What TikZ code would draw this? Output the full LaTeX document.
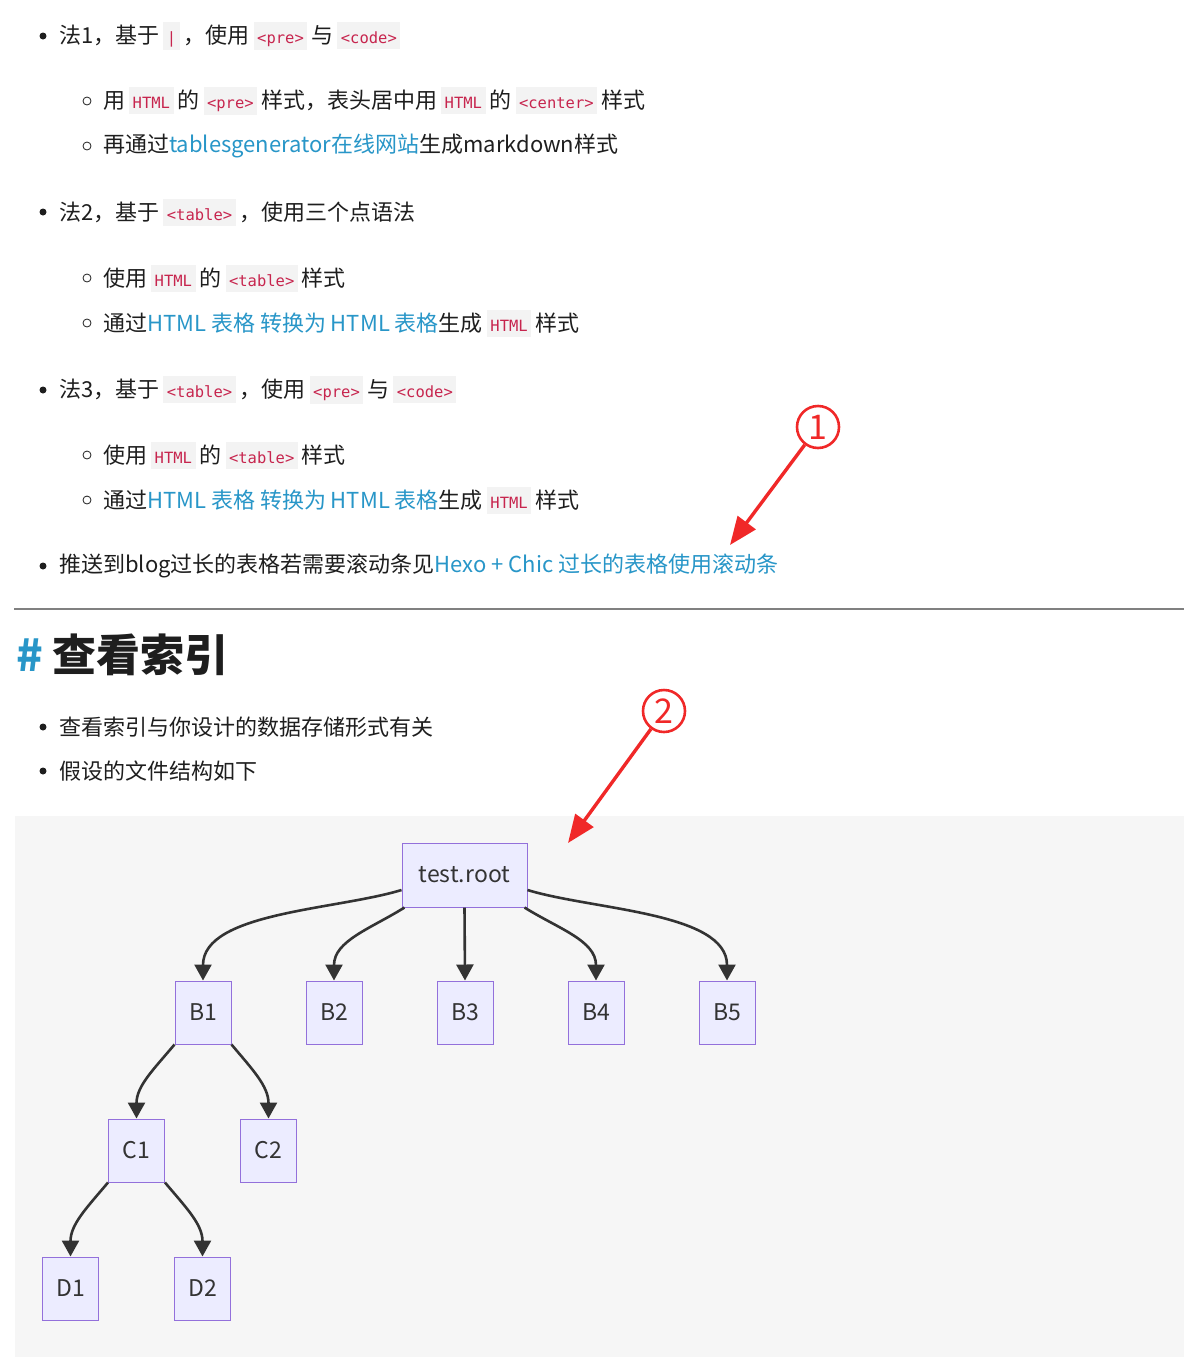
\documentclass[tikz,border=0pt]{standalone}
\usepackage{fontspec}
\setmainfont{Noto Sans CJK SC}
\newfontfamily\codefont{DejaVu Sans Mono}
\usepackage{xcolor}
\definecolor{textgray}{RGB}{30,30,30}
\definecolor{linkblue}{RGB}{40,150,200}
\definecolor{codered}{RGB}{199,37,78}
\definecolor{codebg}{RGB}{243,243,243}
\definecolor{chartbg}{RGB}{246,246,246}
\definecolor{boxfill}{RGB}{236,236,255}
\definecolor{boxline}{RGB}{147,112,219}
\definecolor{edgegray}{RGB}{51,51,51}
\definecolor{markred}{RGB}{240,40,40}
\usetikzlibrary{arrows.meta}
\tikzset{>={Triangle[width=17pt,length=16pt]}}
\newcommand\cd[1]{\hspace{4pt}{\setlength\fboxsep{3.5pt}\colorbox{codebg}{\codefont\fontsize{15.5}{18}\selectfont\textcolor{codered}{\rule[-2pt]{0pt}{20pt}#1}}}\hspace{4pt}}
\newcommand\lnk[1]{\textcolor{linkblue}{#1}}
\tikzset{%
    itemtext/.style={anchor=west, inner sep=0pt, text=textgray,
        font=\fontsize{22}{26}\selectfont},
    filebox/.style={draw=boxline, fill=boxfill, line width=1pt, text=edgegray,
        minimum width=56pt, minimum height=63pt, inner sep=0pt,
        font=\fontsize{23}{26}\selectfont},
    treeedge/.style={->, draw=edgegray, line width=2.6pt},
    callout/.style={circle, draw=markred, line width=2.6pt, text=markred,
        minimum size=42pt, inner sep=0pt, font=\fontsize{34}{34}\selectfont},
    calloutarrow/.style={markred, line width=3.4pt,
        -{Triangle[width=22pt,length=28pt]}}
}

\begin{document}
\begin{tikzpicture}[x=1pt,y=-1pt]
    \useasboundingbox[fill=white] (0,0) rectangle (1199,1360);
    % bullets
    \foreach \y in {36,212,390,566,727,771}
        \fill[textgray] (43,\y) circle (3.5);
    \foreach \y in {101,146,278,323,455,500}
        \draw[textgray,line width=0.8pt] (87,\y) circle (4);
    \node[itemtext] (m1) at (59,36) {法1，基于\cd{|}，使用\cd{<pre>}与\cd{<code>}};
    \node[itemtext] (m1a) at (103,101) {用\cd{HTML}的\cd{<pre>}样式，表头居中用\cd{HTML}的\cd{<center>}样式};
    \node[itemtext] (m1b) at (103,146) {再通过\lnk{tablesgenerator在线网站}生成markdown样式};
    \node[itemtext] (m2) at (59,212) {法2，基于\cd{<table>}，使用三个点语法};
    \node[itemtext] (m2a) at (103,278) {使用\cd{HTML}的\cd{<table>}样式};
    \node[itemtext] (m2b) at (103,323) {通过\lnk{HTML 表格 转换为 HTML 表格}生成\cd{HTML}样式};
    \node[itemtext] (m3) at (59,390) {法3，基于\cd{<table>}，使用\cd{<pre>}与\cd{<code>}};
    \node[itemtext] (m3a) at (103,455) {使用\cd{HTML}的\cd{<table>}样式};
    \node[itemtext] (m3b) at (103,500) {通过\lnk{HTML 表格 转换为 HTML 表格}生成\cd{HTML}样式};
    \node[itemtext] (m4) at (59,566) {推送到blog过长的表格若需要滚动条见\lnk{Hexo + Chic 过长的表格使用滚动条}};
    \draw[gray,line width=1.5pt] (14,609) -- (1184,609);
    \node[itemtext, font=\fontsize{44}{50}\selectfont\bfseries] (head) at (16,655)
        {\textcolor{linkblue}{\#}\hspace{10pt}查看索引};
    \node[itemtext] (s1) at (59,727) {查看索引与你设计的数据存储形式有关};
    \node[itemtext] (s2) at (59,771) {假设的文件结构如下};
    % tree
    \fill[chartbg] (15,816) rectangle (1184,1357);
    \node[filebox, minimum width=125pt, minimum height=64pt] (root) at (464.5,875) {test.root};
    \node[filebox] (b1) at (203,1012.5) {B1};
    \node[filebox] (b2) at (334,1012.5) {B2};
    \node[filebox] (b3) at (465,1012.5) {B3};
    \node[filebox] (b4) at (596,1012.5) {B4};
    \node[filebox] (b5) at (727,1012.5) {B5};
    \node[filebox] (c1) at (136.5,1150.5) {C1};
    \node[filebox] (c2) at (268.5,1150.5) {C2};
    \node[filebox] (d1) at (70.5,1288.5) {D1};
    \node[filebox] (d2) at (202.5,1288.5) {D2};
    \draw[treeedge] ([yshift=-15pt]root.west) to[out=197,in=90,looseness=0.8] (b1.north);
    \draw[treeedge] ([xshift=3pt]root.south west) to[out=212,in=90] (b2.north);
    \draw[treeedge] (root.south) -- (b3.north);
    \draw[treeedge] ([xshift=-3pt]root.south east) to[out=-32,in=90] (b4.north);
    \draw[treeedge] ([yshift=-15pt]root.east) to[out=-17,in=90,looseness=0.8] (b5.north);
    \draw[treeedge] (b1.south west) to[out=-130,in=90] (c1.north);
    \draw[treeedge] (b1.south east) to[out=-50,in=90] (c2.north);
    \draw[treeedge] (c1.south west) to[out=-130,in=90] (d1.north);
    \draw[treeedge] (c1.south east) to[out=-50,in=90] (d2.north);
    % callouts
    \node[callout] (n1) at (818,427) {1};
    \coordinate (t1) at (730,545);
    \draw[calloutarrow] (n1) -- (t1);
    \node[callout] (n2) at (664,711) {2};
    \coordinate (t2) at (568,843);
    \draw[calloutarrow] (n2) -- (t2);
\end{tikzpicture}
\end{document}
